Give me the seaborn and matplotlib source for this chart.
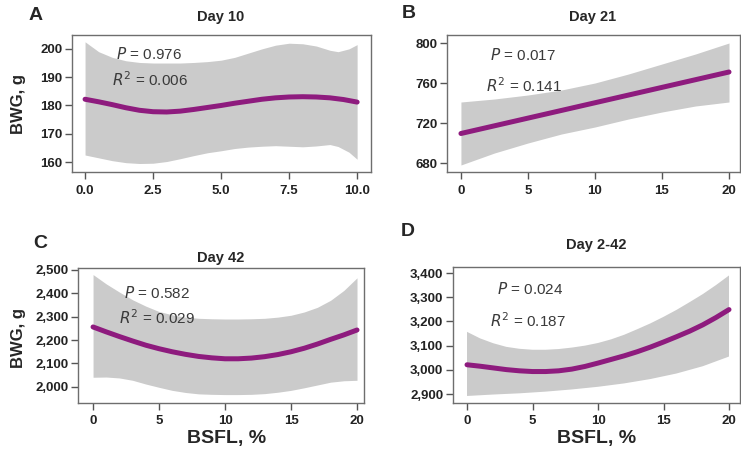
import matplotlib
matplotlib.use("Agg")
import matplotlib.pyplot as plt
import seaborn as sns
import pandas as pd
from matplotlib.ticker import FuncFormatter

sns.set_style("white")
plt.rcParams['font.family'] = ['Liberation Sans', 'DejaVu Sans']

# ---- data ----
a_x = [0, 0.5, 1, 1.5, 2, 2.5, 3, 3.5, 4, 4.5, 5, 5.5, 6, 6.5, 7, 7.5, 8, 8.5, 9, 9.5, 10]
a_fit = [182.2, 181.3, 180.3, 179.2, 178.3, 177.8, 177.7, 178.0, 178.6, 179.3, 180.0,
         180.8, 181.5, 182.2, 182.7, 183.0, 183.1, 183.0, 182.7, 182.1, 181.2]
a_bx = [0, 0.5, 1, 1.5, 2, 2.5, 3, 3.5, 4, 4.5, 5, 5.5, 6, 6.5, 7, 7.5, 8, 8.5, 9, 9.3, 9.7, 10]
a_up = [202.5, 199, 197, 195.8, 195.2, 195, 195, 195, 195.2, 195.5, 196, 197, 198.5,
        200, 201.3, 202, 201.8, 201, 199.5, 199, 200, 201.5]
a_lo = [162.5, 161.5, 160.5, 159.8, 159.5, 159.6, 160.2, 161.2, 162.3, 163.3, 164.0,
        164.8, 165.3, 165.6, 165.8, 165.6, 165.4, 165.7, 166.2, 165.5, 163.5, 161]

b_x = [0, 20]
b_fit = [709.5, 771]
b_bx = [0, 2.5, 5, 7.5, 10, 12.5, 15, 17.5, 20]
b_up = [741, 744, 748, 753, 760, 769, 779, 789, 800]
b_lo = [678, 690, 700, 709, 716, 724, 731, 737, 741]

c_x = list(range(0, 21))
c_fit = [2256, 2235, 2215, 2196, 2178, 2163, 2150, 2139, 2130, 2124, 2120,
         2120, 2123, 2129, 2138, 2150, 2165, 2183, 2203, 2222, 2243]
c_up = [2480, 2440, 2405, 2372, 2345, 2322, 2308, 2298, 2293, 2291, 2290,
        2290, 2291, 2293, 2298, 2306, 2320, 2340, 2370, 2412, 2466]
c_lo = [2041, 2042, 2038, 2028, 2012, 1998, 1985, 1976, 1970, 1968, 1967,
        1967, 1968, 1971, 1977, 1985, 1996, 2008, 2020, 2026, 2028]

d_x = list(range(0, 21))
d_fit = [3021, 3015, 3008, 3001, 2996, 2993, 2993, 2996, 3003, 3014, 3028,
         3043, 3058, 3075, 3094, 3115, 3137, 3160, 3186, 3216, 3249]
d_up = [3157, 3130, 3110, 3095, 3087, 3083, 3083, 3086, 3092, 3100, 3111,
        3126, 3145, 3168, 3192, 3219, 3248, 3280, 3313, 3350, 3390]
d_bx = [0, 2, 4, 6, 8, 10, 12, 14, 16, 18, 20]
d_lo = [2892, 2898, 2903, 2910, 2919, 2930, 2944, 2962, 2985, 3015, 3055]

panels = ["A", "B", "C", "D"]
titles = ["Day 10", "Day 21", "Day 42", "Day 2-42"]
p_text = ["0.976", "0.017", "0.582", "0.024"]
r2_text = ["0.006", "0.141", "0.029", "0.187"]
a_xticks = [0.0, 2.5, 5.0, 7.5, 10.0]
b_xticks = [0, 5, 10, 15, 20]
a_yticks = [160, 170, 180, 190, 200]
b_yticks = [680, 720, 760, 800]
c_yticks = [2000, 2100, 2200, 2300, 2400, 2500]
d_yticks = [2900, 3000, 3100, 3200, 3300, 3400]

W, H = 741, 458
fig = plt.figure(figsize=(W / 100, H / 100), dpi=100)

def px_axes(l, r, t, b):
    return fig.add_axes([l / W, 1 - b / H, (r - l) / W, (b - t) / H])

LINE = "#8e1b7e"
BAND = "#cbcbcb"
TXT = "#3a3a3a"

specs = [
    dict(box=(72, 371, 35, 172), xs=a_x, fit=a_fit, bx=a_bx, up=a_up, lo=a_lo,
         xlim=(-0.48, 10.51), ylim=(156.5, 204.9), xt=a_xticks, yt=a_yticks,
         xfmt="{:.1f}", yfmt="{:.0f}", ptxt=(1.15, 198.2), rtxt=(1.0, 189.0)),
    dict(box=(447, 740, 35, 172), xs=b_x, fit=b_fit, bx=b_bx, up=b_up, lo=b_lo,
         xlim=(-1.04, 20.82), ylim=(671, 808), xt=b_xticks, yt=b_yticks,
         xfmt="{:.0f}", yfmt="{:.0f}", ptxt=(2.2, 788), rtxt=(1.9, 757)),
    dict(box=(78, 364, 268, 403), xs=c_x, fit=c_fit, bx=c_x, up=c_up, lo=c_lo,
         xlim=(-1.14, 20.53), ylim=(1931, 2508), xt=b_xticks, yt=c_yticks,
         xfmt="{:.0f}", yfmt="{:,.0f}", ptxt=(2.35, 2400), rtxt=(2.0, 2295)),
    dict(box=(453, 740, 267, 403), xs=d_x, fit=d_fit, bx=d_x, up=d_up, lo=None,
         xlim=(-1.07, 20.84), ylim=(2863, 3425), xt=b_xticks, yt=d_yticks,
         xfmt="{:.0f}", yfmt="{:,.0f}", ptxt=(2.3, 3335), rtxt=(1.75, 3205)),
]

axes = []
for i, s in enumerate(specs):
    ax = px_axes(*s["box"])
    axes.append(ax)
    if s["lo"] is None:
        # panel D: upper and lower edges read at different x positions
        import numpy as np
        poly_x = list(s["bx"]) + list(d_bx[::-1])
        poly_y = list(s["up"]) + list(d_lo[::-1])
        ax.fill(poly_x, poly_y, color=BAND, lw=0, zorder=1)
    else:
        ax.fill_between(s["bx"], s["lo"], s["up"], color=BAND, lw=0, zorder=1)
    df = pd.DataFrame({"x": s["xs"], "y": s["fit"]})
    sns.lineplot(data=df, x="x", y="y", ax=ax, color=LINE, lw=3.6, zorder=3)
    ax.set_xlim(*s["xlim"])
    ax.set_ylim(*s["ylim"])
    ax.set_xticks(s["xt"])
    ax.set_yticks(s["yt"])
    fx, fy = s["xfmt"], s["yfmt"]
    ax.xaxis.set_major_formatter(FuncFormatter(lambda v, p, f=fx: f.format(v)))
    ax.yaxis.set_major_formatter(FuncFormatter(lambda v, p, f=fy: f.format(v)))
    ax.set_xlabel("")
    ax.set_ylabel("")
    for sp in ax.spines.values():
        sp.set_visible(True)
        sp.set_color("#6e6e6e")
        sp.set_linewidth(1.0)
    ax.tick_params(axis="both", direction="out", length=5, width=1.0,
                   color="#555555", labelsize=9.5, labelcolor="#222222", pad=2)
    ax.tick_params(axis="x", pad=4)
    ax.tick_params(left=True, bottom=True)
    for lab in ax.get_xticklabels() + ax.get_yticklabels():
        lab.set_fontweight("bold")
    ax.text(s["ptxt"][0], s["ptxt"][1], "$\\it{P}$ = " + p_text[i],
            fontsize=11, color=TXT, ha="left", va="center", zorder=4)
    ax.text(s["rtxt"][0], s["rtxt"][1], "$\\it{R}^2$ = " + r2_text[i],
            fontsize=11, color=TXT, ha="left", va="center", zorder=4)

# titles and panel letters (figure pixel coordinates)
def ftext(x, y, t, **kw):
    fig.text(x / W, 1 - y / H, t, **kw)

tkw = dict(ha="center", va="center", fontsize=10.5, fontweight="bold")
ftext(221, 17, titles[0], **tkw)
ftext(593, 17, titles[1], **tkw)
ftext(221, 258, titles[2], **tkw)
ftext(596, 245, titles[3], **tkw)

lkw = dict(ha="center", va="center", fontsize=14, fontweight="bold")
ftext(36, 15, panels[0], **lkw)
ftext(409, 13, panels[1], **lkw)
ftext(40, 244, panels[2], **lkw)
ftext(408, 232, panels[3], **lkw)

ykw = dict(ha="center", va="center", rotation=90, fontsize=12, fontweight="bold")
ftext(19, 104, "BWG, g", **ykw)
ftext(19, 338, "BWG, g", **ykw)
xkw = dict(ha="center", va="center", fontsize=14, fontweight="bold")
ftext(227, 438, "BSFL, %", **xkw)
ftext(597, 438, "BSFL, %", **xkw)

fig.savefig("out.png", dpi=100, facecolor="white")
